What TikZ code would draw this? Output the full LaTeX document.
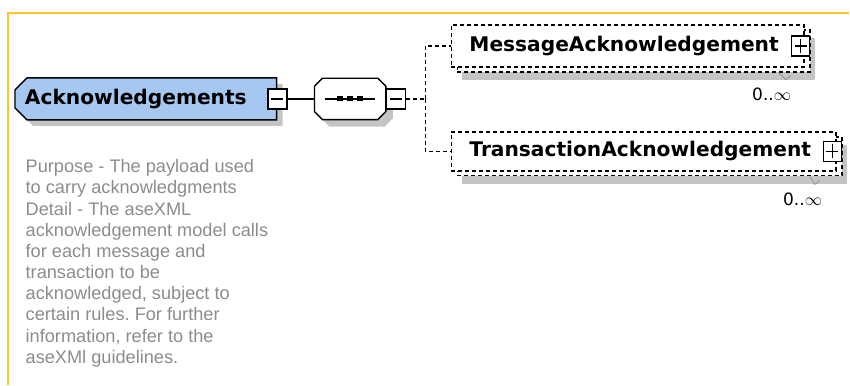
\documentclass[tikz,border=0pt]{standalone}
\usepackage{fontspec}
\setmainfont{Liberation Sans}
\newfontfamily\boxfont{DejaVu Sans}
\usetikzlibrary{shapes.misc, shadows, positioning, calc}

\definecolor{elemblue}{HTML}{A6C8F0}
\definecolor{frameorange}{HTML}{FFC526}
\definecolor{shadowgray}{HTML}{C4C4C4}
\definecolor{notegray}{HTML}{8C8C8C}

\begin{document}
\frenchspacing
\begin{tikzpicture}[x=1pt, y=-1pt, line width=1.4pt]
    % Styles
    \tikzstyle{elem} = [chamfered rectangle, chamfered rectangle corners={north west, south west},
                        chamfered rectangle sep=6pt, draw, fill=elemblue, minimum width=262pt,
                        minimum height=42pt, inner sep=0pt, font=\boxfont\bfseries\fontsize{20.2}{24}\selectfont,
                        drop shadow={shadow xshift=6pt, shadow yshift=-6pt, fill=shadowgray, opacity=1}]
    \tikzstyle{seqhold} = [rectangle, minimum width=70pt, minimum height=40pt, inner sep=0pt]
    \tikzstyle{toggle} = [rectangle, draw, fill=white, minimum width=19pt, minimum height=20pt, inner sep=0pt]
    \tikzstyle{minus} = [toggle, path picture={\draw (path picture bounding box.center) ++(-6,0) -- ++(12,0);}]
    \tikzstyle{plus} = [toggle, minimum width=18pt, path picture={
                        \draw (path picture bounding box.center) ++(-6,0) -- ++(12,0);
                        \draw (path picture bounding box.center) ++(0,-7) -- ++(0,14);}]
    \tikzstyle{elembox} = [rectangle, draw, dash pattern=on 4pt off 3pt, fill=white, inner xsep=18pt,
                        inner ysep=0pt, align=left, font=\boxfont\bfseries\fontsize{20.2}{24}\selectfont]
    \tikzstyle{elemback} = [elembox, drop shadow={shadow xshift=5pt, shadow yshift=-8pt, fill=shadowgray, opacity=1}]
    \tikzstyle{card} = [inner sep=0pt, font=\boxfont\fontsize{17}{20}\selectfont]
    \tikzstyle{note} = [inner sep=0pt, align=left, text=notegray, font=\fontsize{18.2}{21.2}\selectfont]

    % Frame
    \draw[frameorange, line width=2pt] (8,385) -- (8,13) -- (850,13);

    % Nodes
    \node[elem] (ack) at (146,99) {\hspace*{-20pt}Acknowledgements};
    \node[minus] (minA) at (ack.east) {};
    \node[seqhold, right=27pt of minA] (seq) {};
    \draw[fill=white, drop shadow={shadow xshift=7pt, shadow yshift=-7pt, fill=shadowgray, opacity=1}]
        ($(seq.north west)+(8,0)$) -- ($(seq.north east)+(-8,0)$) -- ($(seq.north east)+(0,8)$)
        -- ($(seq.south east)+(0,-8)$) -- ($(seq.south east)+(-8,0)$) -- ($(seq.south west)+(8,0)$)
        -- ($(seq.south west)+(0,-8)$) -- ($(seq.north west)+(0,8)$) -- cycle;
    \node[minus, right=0pt of seq] (minS) {};
    \coordinate[right=19pt of minS] (jn);

    \node[elemback, minimum width=353pt, minimum height=42pt] (msgback) at (634.5,51) {};
    \node[elembox, minimum width=353pt, minimum height=42pt, text width=317pt]
        (msg) at ([xshift=-6pt, yshift=5pt]msgback.center) {MessageAcknowledgement};
    \node[plus] (plusM) at ([xshift=-4pt]msg.east) {};

    \node[elemback, minimum width=385pt, minimum height=39pt] (trnback) at (650.5,156.5) {};
    \node[elembox, minimum width=385pt, minimum height=39pt, text width=349pt]
        (trn) at ([xshift=-6pt, yshift=5pt]trnback.center) {TransactionAcknowledgement};
    \node[plus] (plusT) at ([xshift=-4.5pt]trn.east) {};

    \node[card, below left=15pt and 19pt of msgback.south east] (msgcard) {0..\(\infty\)};
    \node[card, below left=16pt and 20pt of trnback.south east] (trncard) {0..\(\infty\)};

    \node[note, anchor=north west] (desc) at (25,159) {Purpose - The payload used\\
        to carry acknowledgments\\ Detail - The aseXML\\ acknowledgement model calls\\
        for each message and\\ transaction to be\\ acknowledged, subject to\\
        certain rules. For further\\ information, refer to the\\ aseXMl guidelines.};

    % Sequence marks
    \draw ([xshift=10pt]seq.west) -- ([xshift=-11pt]seq.east);
    \foreach \dx in {-10,0,10}
        \fill ([xshift=\dx pt]seq.center) ++(-3,-2.5) rectangle ++(6,5);

    % Connections
    \draw (minA) -- (seq);
    \draw[dash pattern=on 4pt off 3pt] (minS) -- (jn);
    \draw[dash pattern=on 4pt off 3pt] (jn) |- (msg.west);
    \draw[dash pattern=on 4pt off 3pt] (jn) |- (trn.west);
    \draw[notegray, line width=0.7pt] ([xshift=-32pt]msgback.south east) -- ++(7,7) -- ++(5,-4);
    \draw[notegray, line width=0.7pt] ([xshift=-33pt]trnback.south east) -- ++(5,8) -- ++(5,-4);

    \useasboundingbox (0,0) rectangle (850,385);
\end{tikzpicture}
\end{document}
